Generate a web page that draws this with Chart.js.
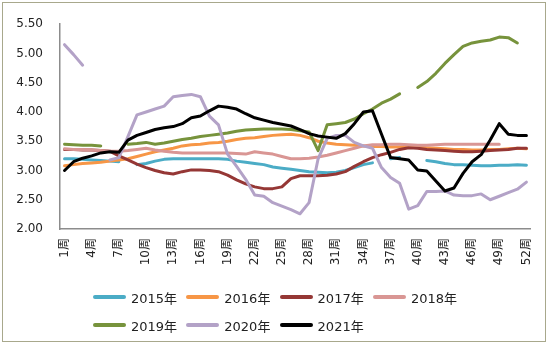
<!DOCTYPE html>
<html>
<head>
<meta charset="utf-8">
<script src="https://cdn.jsdelivr.net/npm/chart.js@4.4.1/dist/chart.umd.min.js"></script>
<style>
  body { margin: 0; background: #fff; }
  #wrap { position: relative; width: 550px; height: 345px; }
  #frame { position: absolute; left: 2px; top: 2px; width: 544px; height: 340px;
           box-sizing: border-box; border: 1.5px solid #a8a88c; pointer-events: none; }
  #legend { position: absolute; left: 0; top: 0; width: 550px; height: 345px; pointer-events: none;
            font: 13px 'DejaVu Sans', 'Noto Sans CJK SC', sans-serif; color: #222; }
  .item { position: absolute; display: flex; align-items: center; white-space: nowrap; height: 20px; }
  .item i { display: inline-block; width: 33px; height: 3.5px; border-radius: 2px; margin-right: 5px; }
</style>
</head>
<body>
<div id="wrap">
  <canvas id="c" width="550" height="345"></canvas>
  <div id="legend"></div>
  <div id="frame"></div>
</div>
<script>
// ── data ──────────────────────────────────────
const weeks = ['1周','2周','3周','4周','5周','6周','7周','8周','9周','10周',
  '11周','12周','13周','14周','15周','16周','17周','18周','19周','20周',
  '21周','22周','23周','24周','25周','26周','27周','28周','29周','30周',
  '31周','32周','33周','34周','35周','36周','37周','38周','39周','40周',
  '41周','42周','43周','44周','45周','46周','47周','48周','49周','50周',
  '51周','52周'];

const years = ['2015年', '2016年', '2017年', '2018年', '2019年', '2020年', '2021年'];

const y2015 = [3.20,3.20,3.19,3.18,3.17,3.16,3.15,null,3.10,3.12,
  3.16,3.19,3.20,3.20,3.20,3.20,3.20,3.20,3.19,3.16,
  3.14,3.12,3.10,3.06,3.04,3.02,3.00,2.98,2.97,2.96,
  2.97,3.00,3.05,3.10,3.13,null,3.20,3.22,null,null,
  3.17,3.15,3.12,3.10,3.10,3.09,3.08,3.08,3.09,3.09,3.10,3.09];
const y2016 = [3.08,3.10,3.12,3.13,3.14,3.16,3.18,3.20,3.24,3.28,
  3.32,3.35,3.38,3.42,3.44,3.45,3.47,3.48,3.50,3.53,
  3.55,3.56,3.58,3.60,3.61,3.62,3.60,3.56,3.50,3.47,
  3.45,3.44,3.43,3.42,3.41,3.41,3.40,3.40,3.40,3.40,
  3.39,3.38,3.37,3.36,3.36,3.35,3.35,3.36,3.36,3.37,3.38,3.37];
const y2017 = [3.36,3.36,3.35,3.35,3.34,3.33,3.25,3.18,3.11,3.05,
  3.00,2.96,2.94,2.98,3.01,3.01,3.00,2.98,2.92,2.84,
  2.77,2.72,2.69,2.69,2.72,2.86,2.91,2.91,2.91,2.92,
  2.94,2.98,3.07,3.15,3.22,3.27,3.31,3.36,3.39,3.38,
  3.36,3.35,3.34,3.33,3.32,3.32,3.33,3.34,3.35,3.36,3.38,3.38];
const y2018 = [3.37,3.36,3.36,3.35,3.34,3.33,3.33,3.34,3.36,3.38,
  3.35,3.33,3.31,3.30,3.30,3.30,3.30,3.30,3.30,3.29,
  3.28,3.32,3.30,3.28,3.24,3.20,3.20,3.21,3.23,3.26,
  3.30,3.34,3.38,3.42,3.44,3.44,3.45,3.45,3.44,3.43,
  3.43,3.44,3.45,3.45,3.45,3.45,3.45,3.45,3.45,null,null,null];
const y2019 = [3.45,3.44,3.43,3.43,3.42,null,null,3.45,3.46,3.48,
  3.45,3.47,3.50,3.53,3.55,3.58,3.60,3.62,3.64,3.67,
  3.69,3.70,3.71,3.71,3.71,3.70,3.68,3.66,3.34,3.78,
  3.80,3.82,3.88,3.97,4.05,4.15,4.22,4.31,null,4.42,
  4.52,4.66,4.83,4.98,5.12,5.18,5.21,5.23,5.28,5.27,5.18,null];
const y2020 = [5.15,4.98,4.80,null,null,3.18,3.22,3.58,3.95,4.00,
  4.05,4.10,4.26,4.28,4.30,4.26,3.93,3.78,3.28,3.07,
  2.85,2.58,2.56,2.45,2.39,2.33,2.26,2.45,3.20,3.55,
  3.60,3.60,3.48,3.42,3.38,3.05,2.88,2.78,2.34,2.40,
  2.64,2.64,2.65,2.58,2.57,2.57,2.60,2.50,2.56,2.62,2.68,2.80];
const y2021 = [3.00,3.15,3.21,3.25,3.30,3.32,3.31,3.52,3.60,3.65,
  3.70,3.73,3.75,3.80,3.90,3.93,4.02,4.10,4.08,4.05,
  3.97,3.90,3.86,3.82,3.79,3.76,3.70,3.63,3.59,3.57,
  3.55,3.63,3.80,4.00,4.02,3.62,3.22,3.20,3.18,3.01,
  2.99,2.82,2.65,2.70,2.95,3.15,3.27,3.52,3.80,3.62,3.60,3.60];

const series = [y2015, y2016, y2017, y2018, y2019, y2020, y2021];
const COLORS = ['#4bacc6', '#f79646', '#953735', '#d99694', '#77933c', '#b3a2c7', '#000000'];
const yTicks = [2.0, 2.5, 3.0, 3.5, 4.0, 4.5, 5.0, 5.5];

const FONT = "'DejaVu Sans', 'Noto Sans CJK SC', sans-serif";

// ── chart ─────────────────────────────────────
new Chart(document.getElementById('c'), {
  type: 'line',
  data: {
    labels: weeks,
    datasets: series.map((d, i) => ({
      label: years[i], data: d,
      borderColor: COLORS[i], backgroundColor: COLORS[i],
      borderWidth: 3, pointRadius: 0, tension: 0,
      borderCapStyle: 'round', borderJoinStyle: 'round',
      spanGaps: false, order: series.length - i
    }))
  },
  options: {
    responsive: false, animation: false,
    layout: { padding: { left: 0, right: 18, top: 24, bottom: 66 } },
    plugins: { legend: { display: false }, tooltip: { enabled: false } },
    scales: {
      x: {
        offset: true,
        grid: { display: false, drawTicks: false },
        border: { color: '#8c8c8c', width: 1.5 },
        ticks: {
          autoSkip: false, maxRotation: 90, minRotation: 90, padding: 9,
          color: '#222', font: { family: FONT, size: 12 },
          callback: (v, i) => (i % 3 === 0 ? weeks[i] : '')
        },
        afterFit: s => { s.height = 50; }
      },
      y: {
        min: yTicks[0], max: yTicks[yTicks.length - 1],
        grid: { display: false, drawTicks: false },
        border: { color: '#8c8c8c', width: 1.5 },
        afterBuildTicks: s => { s.ticks = yTicks.map(v => ({ value: v })); },
        ticks: {
          padding: 17, color: '#222', font: { family: FONT, size: 12 },
          callback: v => Number(v).toFixed(2)
        },
        afterFit: s => { s.width = 60; }
      }
    }
  }
});

// legend: 4 per row, grid like excel
const lg = document.getElementById('legend');
years.forEach((name, i) => {
  const el = document.createElement('div');
  el.className = 'item';
  el.style.left = (93 + (i % 4) * 93.3) + 'px';
  el.style.top = (287 + Math.floor(i / 4) * 28) + 'px';
  el.innerHTML = `<i style="background:${COLORS[i]}"></i><span>${name}</span>`;
  lg.appendChild(el);
});
</script>
</body>
</html>
